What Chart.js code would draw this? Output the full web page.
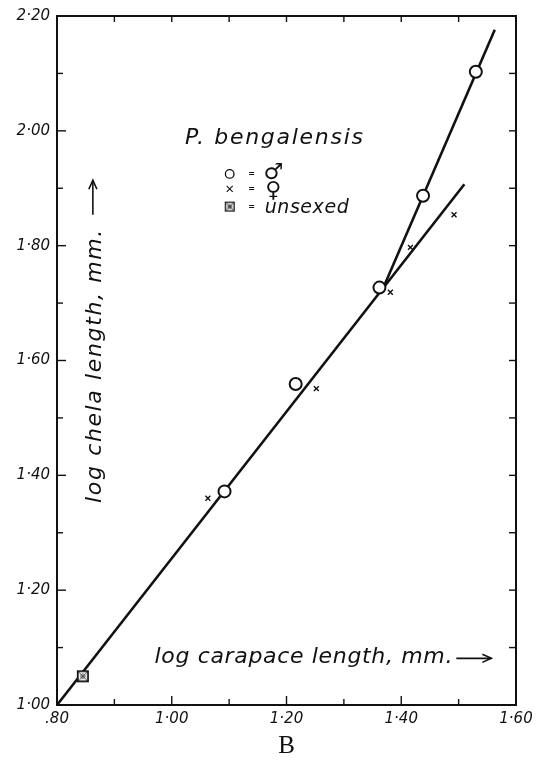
<!DOCTYPE html>
<html>
<head>
<meta charset="utf-8">
<title>P. bengalensis - log chela vs log carapace</title>
<script src="https://cdn.jsdelivr.net/npm/chart.js@4.4.0/dist/chart.umd.min.js"></script>
<style>
  html, body { margin: 0; padding: 0; background: #fff; }
  #wrap { width: 538px; height: 762px; }
</style>
</head>
<body>
<div id="wrap"><canvas id="chelaChart"></canvas></div>
<script>
// log carapace length (x) against log chela length (y), mm.
const maleCarapace = [1.092, 1.216, 1.362, 1.438, 1.530];
const maleChela = [1.372, 1.559, 1.727, 1.887, 2.103];
const femaleCarapace = [1.063, 1.252, 1.381, 1.416, 1.492];
const femaleChela = [1.360, 1.551, 1.719, 1.797, 1.854];
const unsexedCarapace = [0.845];
const unsexedChela = [1.050];

// the two fitted lines, by their end points
const lowerLineX = [0.80, 1.510];
const lowerLineY = [1.00, 1.907];
const upperLineX = [1.368, 1.563];
const upperLineY = [1.725, 2.176];

const xTickValues = [0.8, 1.0, 1.2, 1.4, 1.6];
const xTickLabels = ['.80', '1·00', '1·20', '1·40', '1·60'];
const yTickValues = [1.0, 1.2, 1.4, 1.6, 1.8, 2.0, 2.2];
const yTickLabels = ['1·00', '1·20', '1·40', '1·60', '1·80', '2·00', '2·20'];

const INK = '#111';
const FONT = '"DejaVu Sans", sans-serif';

function toPoints(xs, ys) {
    return xs.map((x, i) => ({ x: x, y: ys[i] }));
}

function labelFor(values, labels, v) {
    const i = values.findIndex(t => Math.abs(t - v) < 1e-6);
    return i === -1 ? '' : labels[i];
}

// square with a cross and a ring, used for the unsexed specimen
function unsexedMarker(size, lw) {
    const c = document.createElement('canvas');
    c.width = size;
    c.height = size;
    const g = c.getContext('2d');
    const s = size - 2;
    g.fillStyle = '#fff';
    g.fillRect(1, 1, s, s);
    g.strokeStyle = INK;
    g.lineWidth = lw;
    g.strokeRect(1 + lw / 2, 1 + lw / 2, s - lw, s - lw);
    g.lineWidth = 0.8;
    const c0 = size / 2, r = s / 2 - lw - 0.5;
    g.beginPath();
    g.moveTo(c0 - r, c0 - r); g.lineTo(c0 + r, c0 + r);
    g.moveTo(c0 + r, c0 - r); g.lineTo(c0 - r, c0 + r);
    g.stroke();
    g.beginPath();
    g.arc(c0, c0, r * 0.6, 0, Math.PI * 2);
    g.stroke();
    return c;
}

function line(ctx, x1, y1, x2, y2) {
    ctx.beginPath();
    ctx.moveTo(x1, y1);
    ctx.lineTo(x2, y2);
    ctx.stroke();
}

function arrowHead(ctx, x, y, angle, len) {
    ctx.save();
    ctx.translate(x, y);
    ctx.rotate(angle);
    ctx.beginPath();
    ctx.moveTo(-len, -len * 0.45);
    ctx.lineTo(0, 0);
    ctx.lineTo(-len, len * 0.45);
    ctx.stroke();
    ctx.restore();
}

// spread a label over a given length using letter spacing
function spreadText(ctx, text, x, y, length, size) {
    ctx.letterSpacing = '0px';
    ctx.font = 'italic ' + size + 'px ' + FONT;
    const w = ctx.measureText(text).width;
    if (w > length) {
        ctx.font = 'italic ' + (size * length / w).toFixed(1) + 'px ' + FONT;
    } else {
        ctx.letterSpacing = ((length - w) / (text.length - 1)).toFixed(2) + 'px';
    }
    ctx.fillText(text, x, y);
    ctx.letterSpacing = '0px';
}

// frame with inward ticks on all four sides
const framePlugin = {
    id: 'frame',
    afterDatasetsDraw(chart) {
        const ctx = chart.ctx;
        const a = chart.chartArea;
        const sx = chart.scales.x, sy = chart.scales.y;
        ctx.save();
        ctx.strokeStyle = INK;
        ctx.lineWidth = 2;
        ctx.strokeRect(a.left, a.top, a.right - a.left, a.bottom - a.top);
        ctx.lineWidth = 1.4;
        sx.ticks.forEach(t => {
            const p = sx.getPixelForValue(t.value);
            const major = Math.round(t.value * 10) % 2 === 0;
            line(ctx, p, a.bottom, p, a.bottom - (major ? 9 : 6));
            line(ctx, p, a.top, p, a.top + 6);
        });
        sy.ticks.forEach(t => {
            const p = sy.getPixelForValue(t.value);
            const major = Math.round(t.value * 10) % 2 === 0;
            line(ctx, a.left, p, a.left + (major ? 9 : 6), p);
            line(ctx, a.right, p, a.right - 7, p);
        });
        ctx.restore();
    }
};

// species name, key and the axis titles written inside the frame
const notesPlugin = {
    id: 'notes',
    afterDraw(chart) {
        const ctx = chart.ctx;
        const sx = chart.scales.x, sy = chart.scales.y;
        const px = v => sx.getPixelForValue(v);
        const py = v => sy.getPixelForValue(v);
        ctx.save();
        ctx.fillStyle = INK;
        ctx.strokeStyle = INK;

        // P. bengalensis
        ctx.textAlign = 'left';
        ctx.textBaseline = 'alphabetic';
        spreadText(ctx, 'P. bengalensis', px(1.023), py(1.977), 178, 22);

        // key
        const kx = px(1.101);
        const rows = [py(1.925), py(1.899), py(1.868)];
        ctx.lineWidth = 1.3;
        ctx.fillStyle = '#fff';
        ctx.beginPath();
        ctx.arc(kx, rows[0], 4.3, 0, Math.PI * 2);
        ctx.fill();
        ctx.stroke();
        ctx.fillStyle = INK;
        ctx.lineWidth = 1.1;
        line(ctx, kx - 3, rows[1] - 3, kx + 3, rows[1] + 3);
        line(ctx, kx + 3, rows[1] - 3, kx - 3, rows[1] + 3);
        ctx.drawImage(unsexedMarker(12, 1.3), kx - 6, rows[2] - 6);

        ctx.textAlign = 'center';
        ctx.textBaseline = 'middle';
        ctx.font = 'bold 8px ' + FONT;
        rows.forEach(r => ctx.fillText('=', px(1.139), r));
        ctx.font = '22px ' + FONT;
        ctx.fillText('\u2642', px(1.177), rows[0] - 1);
        ctx.fillText('\u2640', px(1.177), rows[1] + 2);
        ctx.textAlign = 'left';
        spreadText(ctx, 'unsexed', px(1.162), rows[2] + 1, 84, 19);

        // x title with its arrow
        ctx.lineWidth = 1.6;
        const x0 = px(0.970), x1 = px(1.489), xy = py(1.083);
        spreadText(ctx, 'log carapace length, mm.', x0, xy, x1 - x0, 22);
        line(ctx, x1 + 4, xy + 1, px(1.557), xy + 1);
        arrowHead(ctx, px(1.557), xy + 1, 0, 9);

        // y title, rotated, reading upwards
        const yb = py(1.352), ye = py(1.828), yx = px(0.866);
        ctx.save();
        ctx.translate(yx, yb);
        ctx.rotate(-Math.PI / 2);
        spreadText(ctx, 'log chela length, mm.', 0, 0, yb - ye, 22);
        line(ctx, yb - py(1.854), -2, yb - py(1.914), -2);
        arrowHead(ctx, yb - py(1.914), -2, 0, 9);
        ctx.restore();

        ctx.restore();
    }
};

const ctx = document.getElementById('chelaChart').getContext('2d');
const chelaChart = new Chart(ctx, {
    type: 'scatter',
    data: {
        datasets: [
            {
                label: 'unsexed',
                data: toPoints(unsexedCarapace, unsexedChela),
                pointStyle: unsexedMarker(14, 1.8),
                order: 1
            },
            {
                label: 'male',
                data: toPoints(maleCarapace, maleChela),
                pointStyle: 'circle',
                pointRadius: 6,
                borderWidth: 2,
                borderColor: INK,
                backgroundColor: '#fff',
                order: 2
            },
            {
                label: 'female',
                data: toPoints(femaleCarapace, femaleChela),
                pointStyle: 'crossRot',
                pointRadius: 3.5,
                borderWidth: 1.4,
                borderColor: INK,
                order: 3
            },
            {
                label: 'upper line',
                data: toPoints(upperLineX, upperLineY),
                showLine: true,
                pointRadius: 0,
                borderWidth: 2.6,
                borderColor: INK,
                order: 4
            },
            {
                label: 'lower line',
                data: toPoints(lowerLineX, lowerLineY),
                showLine: true,
                pointRadius: 0,
                borderWidth: 2.6,
                borderColor: INK,
                order: 5
            }
        ]
    },
    options: {
        responsive: true,
        maintainAspectRatio: false,
        animation: false,
        layout: { padding: { left: 0, right: 22, top: 13, bottom: 0 } },
        plugins: {
            legend: { display: false },
            tooltip: { enabled: false }
        },
        scales: {
            x: {
                type: 'linear',
                min: 0.8,
                max: 1.6,
                grid: { display: false, drawTicks: false, tickLength: 0 },
                border: { display: false },
                afterFit(scale) { scale.height = 57; },
                ticks: {
                    stepSize: 0.1,
                    autoSkip: false,
                    maxRotation: 0,
                    padding: 5,
                    color: INK,
                    font: { family: FONT, size: 15, style: 'italic' },
                    callback: v => labelFor(xTickValues, xTickLabels, v)
                },
                title: {
                    display: true,
                    text: 'B',
                    color: INK,
                    padding: { top: 0, bottom: 1 },
                    font: { family: '"Liberation Serif", "DejaVu Serif", serif', size: 25 }
                }
            },
            y: {
                type: 'linear',
                min: 1.0,
                max: 2.2,
                grid: { display: false, drawTicks: false, tickLength: 0 },
                border: { display: false },
                afterFit(scale) { scale.width = 57; },
                ticks: {
                    stepSize: 0.1,
                    autoSkip: false,
                    padding: 7,
                    color: INK,
                    font: { family: FONT, size: 15, style: 'italic' },
                    callback: v => labelFor(yTickValues, yTickLabels, v)
                }
            }
        }
    },
    plugins: [framePlugin, notesPlugin]
});
</script>
</body>
</html>
